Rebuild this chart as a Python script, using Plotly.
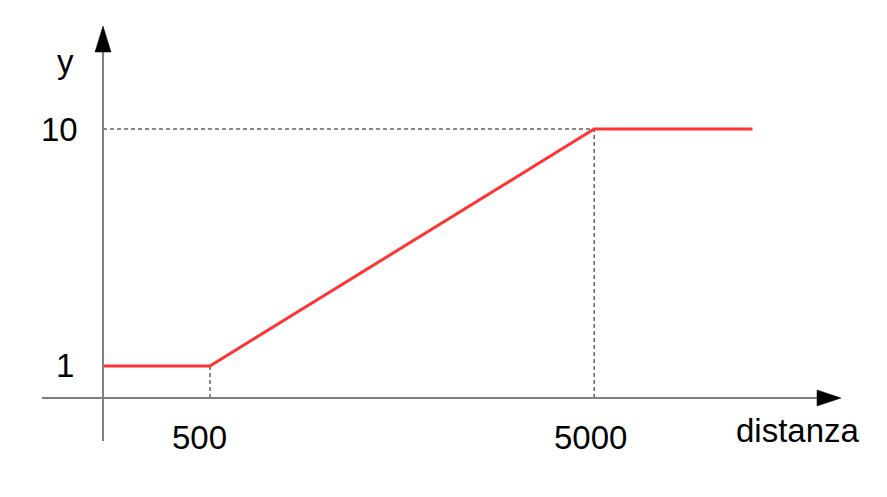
import plotly.graph_objects as go

# ---- data (schematic chart: positions along the drawn axes) ----
x_tick_labels = ["500", "5000"]
x_tick_pos = [1.0, 4.59]          # schematic x positions of the distance ticks
y_tick_labels = ["1", "10"]
y_tick_pos = [0.119, 1.0]         # schematic y positions of the value ticks
curve_x = [0.0, 1.0, 4.59, 6.07]
curve_y = [0.119, 0.119, 1.0, 1.0]
x_axis_title = "distanza"
y_axis_title = "y"

W, H = 887, 497
OFF = 8                           # page offset of the figure (body margin)
X0_PX, Y0_PX = 103, 398           # page pixel of origin
XU, YU = 107.0, 269.0             # pixels per schematic unit

def dx(px):
    return (px - X0_PX) / XU

def dy(py):
    return (Y0_PX - py) / YU

FONT = "Liberation Sans, Arial, sans-serif"
FS = 33

fig = go.Figure()

shapes = []
dash_col = "#111111"
shapes.append(dict(type="line", x0=0, x1=x_tick_pos[1], y0=y_tick_pos[1], y1=y_tick_pos[1],
                   line=dict(color=dash_col, width=1, dash="4px,3px"), layer="below"))
for xp, yp in zip([curve_x[1], curve_x[2]], [curve_y[1], curve_y[2]]):
    shapes.append(dict(type="line", x0=xp, x1=xp, y0=0, y1=yp,
                       line=dict(color=dash_col, width=1, dash="4px,3px"), layer="below"))

ax_col = "#7f7f7f"
shapes.append(dict(type="line", x0=dx(42), x1=dx(820), y0=0, y1=0,
                   line=dict(color=ax_col, width=2)))
shapes.append(dict(type="line", x0=0, x1=0, y0=dy(441), y1=dy(50),
                   line=dict(color=ax_col, width=2)))
shapes.append(dict(type="path",
                   path=f"M {dx(817)},{dy(390)} L {dx(841)},{dy(398)} L {dx(817)},{dy(406)} Z",
                   fillcolor="black", line=dict(color="black", width=0.5)))
shapes.append(dict(type="path",
                   path=f"M {dx(95)},{dy(52)} L {dx(103)},{dy(26)} L {dx(111)},{dy(52)} Z",
                   fillcolor="black", line=dict(color="black", width=0.5)))

fig.add_trace(go.Scatter(x=curve_x, y=curve_y, mode="lines",
                         line=dict(color="#ff3333", width=3), hoverinfo="skip",
                         showlegend=False))

annotations = []
for lab, xp in zip(x_tick_labels, x_tick_pos):
    annotations.append(dict(x=xp, y=dy(437), text=lab,
                            showarrow=False, xanchor="center", yanchor="middle",
                            xshift=-11 if lab == "500" else -4,
                            font=dict(family=FONT, size=FS, color="black")))
for lab, yp in zip(y_tick_labels, y_tick_pos):
    annotations.append(dict(x=dx(80 if lab == "10" else 76), y=yp, text=lab,
                            showarrow=False, xanchor="right", yanchor="middle",
                            font=dict(family=FONT, size=FS, color="black")))
annotations.append(dict(x=dx(798), y=dy(430), text=x_axis_title, showarrow=False,
                        xanchor="center", yanchor="middle",
                        font=dict(family=FONT, size=FS, color="black")))
annotations.append(dict(x=dx(65), y=dy(61), text=y_axis_title, showarrow=False,
                        xanchor="center", yanchor="middle",
                        font=dict(family=FONT, size=FS, color="black")))

fig.update_layout(
    width=W, height=H,
    margin=dict(l=0, r=0, t=0, b=0),
    paper_bgcolor="white", plot_bgcolor="white",
    xaxis=dict(range=[dx(OFF), dx(W + OFF)], visible=False, fixedrange=True),
    yaxis=dict(range=[dy(H + OFF), dy(OFF)], visible=False, fixedrange=True),
    shapes=shapes, annotations=annotations,
)

fig.write_html("out.html")
